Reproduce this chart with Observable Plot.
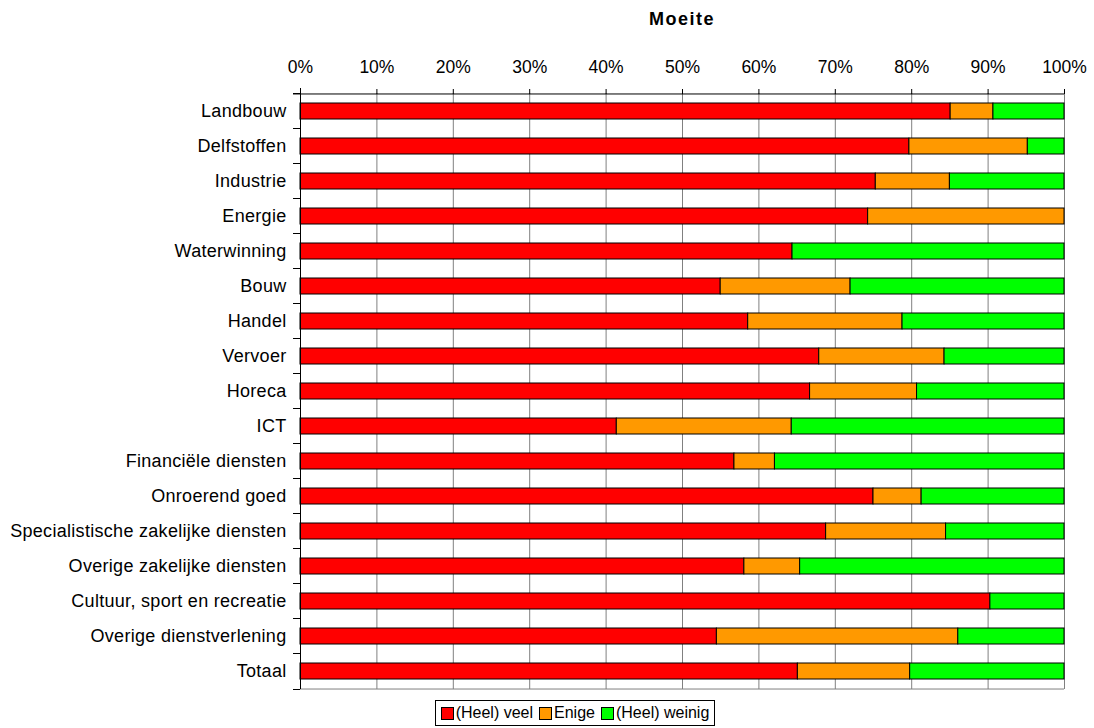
<!DOCTYPE html>
<html>
<head>
<meta charset="utf-8">
<script src="https://cdn.jsdelivr.net/npm/d3@7"></script>
<script src="https://cdn.jsdelivr.net/npm/@observablehq/plot@0.6"></script>
<style>
  body { margin: 0; background: #fff; font-family: "Liberation Sans", Arial, sans-serif; }
  #wrap { position: relative; width: 1094px; height: 728px; }
  #title { position: absolute; left: 300px; width: 764px; top: 9px; text-align: center; font-weight: bold; font-size: 18px; letter-spacing: 1.5px; }
  #chart { position: absolute; left: 0; top: 35px; }
  #legend { position: absolute; left: 435px; top: 700px; width: 280px; height: 26px; border: 1px solid #000; box-sizing: border-box;
            display: flex; align-items: center; justify-content: center; gap: 6px; font-size: 16px; }
  .item { display: flex; align-items: center; gap: 2px; }
  .sw { width: 11px; height: 11px; border: 1px solid #000; }
  .ylab text { letter-spacing: 0.3px; }
</style>
</head>
<body>
<div id="wrap">
  <div id="title">Moeite</div>
  <div id="chart"></div>
  <div id="legend"></div>
</div>
<script>
const categories = ["Landbouw","Delfstoffen","Industrie","Energie","Waterwinning","Bouw","Handel","Vervoer","Horeca","ICT","Financiële diensten","Onroerend goed","Specialistische zakelijke diensten","Overige zakelijke diensten","Cultuur, sport en recreatie","Overige dienstverlening","Totaal"];
const series = ["(Heel) veel","Enige","(Heel) weinig"];
const colors = ["#ff0000","#ff9900","#00ff00"];
const veel   = [85.1,79.7,75.3,74.3,64.4,55.0,58.6,67.9,66.7,41.4,56.8,75.0,68.8,58.1,90.3,54.5,65.1];
const enige  = [5.6,15.5,9.7,25.7,0.0,17.0,20.2,16.4,14.0,22.9,5.3,6.3,15.7,7.3,0.0,31.6,14.7];
const weinig = [9.3,4.8,15.0,0.0,35.6,28.0,21.2,15.7,19.3,35.7,37.9,18.7,15.5,34.6,9.7,13.9,20.2];
const xTicks = [0,0.1,0.2,0.3,0.4,0.5,0.6,0.7,0.8,0.9,1.0];

const seriesValues = [veel, enige, weinig];
const data = [];
categories.forEach((c, i) => {
  series.forEach((s, j) => data.push({cat: c, series: s, value: seriesValues[j][i] / 100}));
});

const bandPx = (689 - 93) / categories.length;
const first = categories[0], last = categories[categories.length - 1];
const tickLen = 7;
const upperTicks = categories.map(c => ({cat: c}));
const lowerTicks = [{cat: last}];

const chart = Plot.plot({
  width: 1094,
  height: 655,
  marginTop: 58,
  marginBottom: 1,
  marginLeft: 300,
  marginRight: 30,
  style: {fontFamily: "Liberation Sans, Arial, sans-serif", fontSize: "18px", color: "#000", background: "transparent", overflow: "visible"},
  x: {domain: [0, 1], axis: null, label: null},
  y: {domain: categories, paddingInner: 0.54, paddingOuter: 0.27, axis: null, label: null},
  color: {domain: series, range: colors},
  marks: [
    Plot.ruleX(xTicks, {stroke: "#808080", strokeWidth: 1}),
    Plot.ruleY([last], {y: d => d, dy: bandPx / 2, stroke: "#808080"}),
    Plot.barX(data, {x: "value", y: "cat", fill: "series", stroke: "#000", strokeWidth: 1, order: series}),
    Plot.axisX({anchor: "top", ticks: xTicks, tickFormat: d => Math.round(d * 100) + "%", tickSize: 5, tickPadding: 16, fontSize: 17.5, label: null}),
    Plot.ruleY([first], {y: d => d, dy: -bandPx / 2, stroke: "#000", insetLeft: -tickLen}),
    Plot.ruleX([0], {stroke: "#000", insetTop: -5}),
    Plot.axisY({anchor: "left", tickSize: 0, tickPadding: 14, fontSize: 18, label: null, className: "ylab"}),
    Plot.ruleY(upperTicks, {y: "cat", x1: 0, x2: 0, insetLeft: -tickLen, dy: -Math.round(bandPx / 2), stroke: "#000", strokeWidth: 1}),
    Plot.ruleY(lowerTicks, {y: "cat", x1: 0, x2: 0, insetLeft: -tickLen, dy: Math.round(bandPx / 2), stroke: "#000", strokeWidth: 1})
  ]
});
document.getElementById("chart").appendChild(chart);

const legend = document.getElementById("legend");
series.forEach((s, j) => {
  const item = document.createElement("div");
  item.className = "item";
  const sw = document.createElement("div");
  sw.className = "sw";
  sw.style.background = colors[j];
  const lab = document.createElement("span");
  lab.textContent = s;
  item.appendChild(sw);
  item.appendChild(lab);
  legend.appendChild(item);
});
</script>
</body>
</html>
